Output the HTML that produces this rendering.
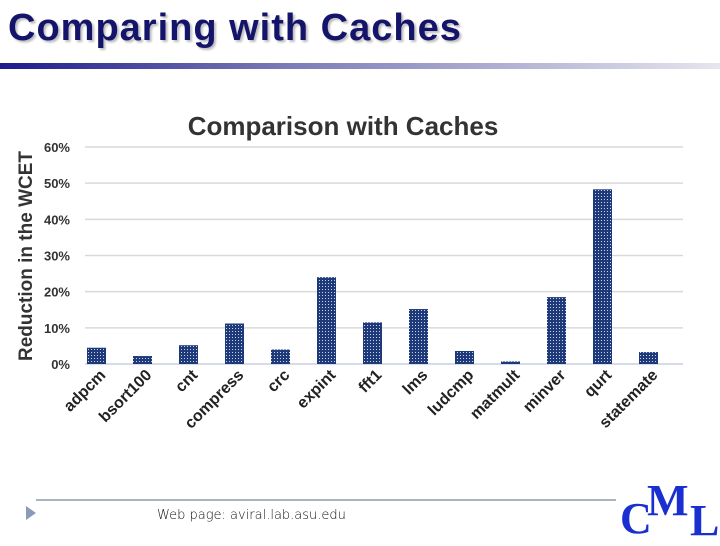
<!DOCTYPE html>
<html><head><meta charset="utf-8"><style>
body{margin:0;width:720px;height:540px;overflow:hidden;background:#fff;font-family:"Liberation Sans",sans-serif;position:relative}
</style></head><body>
<div style="position:absolute;left:8px;top:7px;font-size:38px;font-weight:bold;color:#14146a;text-shadow:2px 2px 2px #bbb;letter-spacing:1px">Comparing with Caches</div>
<div style="position:absolute;left:0;top:63px;width:720px;height:6px;background:linear-gradient(to right,#1c1c8c,#7b7bb8 40%,#e6e6ee)"></div>
<svg id="chart" width="720" height="540" style="position:absolute;left:0;top:0">
<defs><pattern id="dots" width="3" height="3" patternUnits="userSpaceOnUse"><rect width="3" height="3" fill="#1f3a78"/><rect x="1" y="1" width="1" height="1" fill="#c8d4ee"/></pattern></defs>
</svg>
<div style="position:absolute;left:36px;top:499px;width:580px;height:2px;background:#a8b4c4"></div>
<div style="position:absolute;left:26px;top:506px;width:0;height:0;border-left:10px solid #8a9bb8;border-top:7px solid transparent;border-bottom:7px solid transparent"></div>
<div style="position:absolute;left:157px;top:508px;font-size:13px;color:#111;font-family:'DejaVu Sans',sans-serif;font-weight:200">Web page:  aviral.lab.asu.edu</div>
<div style="position:absolute;left:620px;top:475px;width:100px;height:65px;font-family:'Liberation Serif',serif;font-weight:bold;color:#1a2fd0">
<span style="position:absolute;left:0;top:18px;font-size:44px">C</span><span style="position:absolute;left:27px;top:0;font-size:44px">M</span><span style="position:absolute;left:70px;top:20px;font-size:44px">L</span></div>
<script>
const categories=["adpcm","bsort100","cnt","compress","crc","expint","fft1","lms","ludcmp","matmult","minver","qurt","statemate"];
const values=[4.5,2.2,5.2,11.2,4.0,24.0,11.5,15.2,3.6,0.7,18.5,48.3,3.3];
const ticks=[0,10,20,30,40,50,60];
const svg=document.getElementById('chart');const NS='http://www.w3.org/2000/svg';
const y0=364,pxPer=(364-147)/60;const y=v=>y0-v*pxPer;
const x=i=>96.5+46*i;
function mk(t,a){const e=document.createElementNS(NS,t);for(const k in a)e.setAttribute(k,a[k]);svg.appendChild(e);return e;}
let t=mk('text',{x:343,y:135,'text-anchor':'middle','font-size':26,'font-weight':'bold',fill:'#333'});t.textContent='Comparison with Caches';


t=mk('text',{x:0,y:0,transform:'translate(32,256) rotate(-90)','text-anchor':'middle','font-size':19,'font-weight':'bold',fill:'#333'});t.textContent='Reduction in the WCET';


ticks.forEach(v=>{const l=mk('line',{x1:85,x2:683,y1:y(v),y2:y(v),stroke:v===0?'#c8cfe0':'#d9d9d9','stroke-width':1.5});


const tx=mk('text',{x:70,y:y(v)+5,'text-anchor':'end','font-size':13,'font-weight':'bold',fill:'#333'});tx.textContent=v+'%';

});
categories.forEach((c,i)=>{const r=mk('rect',{x:x(i)-9.5,y:y(values[i]),width:19,height:y0-y(values[i]),fill:'url(#dots)'});


const l=mk('text',{x:0,y:0,transform:`translate(${x(i)+10},376) rotate(-45)`,'text-anchor':'end','font-size':16,'font-weight':'bold',fill:'#222'});l.textContent=c;

});
</script>
</body></html>
